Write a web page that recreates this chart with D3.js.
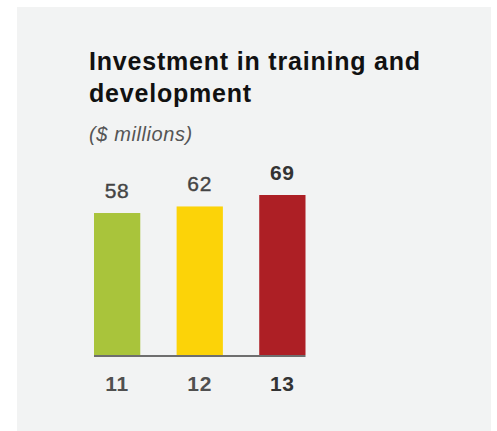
<!DOCTYPE html>
<html>
<head>
<meta charset="utf-8">
<script src="https://cdn.jsdelivr.net/npm/d3@7"></script>
<style>
  html, body { margin: 0; padding: 0; background: #ffffff; }
  svg { display: block; }
  text { font-family: "Liberation Sans", Arial, Helvetica, sans-serif; }
</style>
</head>
<body>
<div id="chart"></div>
<script>
// Fiscal years and spend on training and development ($ millions)
const years = ["11", "12", "13"];
const investment = [58, 62, 69];
const barColors = ["#a9c43b", "#fcd308", "#ad1f25"];
const titleLines = ["Investment in training and", "development"];
const subtitle = "($ millions)";
const valueFloor = -28.7; // value at which bars meet the baseline

const width = 497, height = 431;

const svg = d3.select("#chart").append("svg")
  .attr("width", width)
  .attr("height", height);

// card background
svg.append("rect")
  .attr("x", 17).attr("y", 7)
  .attr("width", 474).attr("height", height - 7)
  .attr("fill", "#f2f3f3");

// title
svg.append("g")
  .selectAll("text")
  .data(titleLines)
  .join("text")
  .attr("x", 89)
  .attr("y", (d, i) => 70 + i * 32)
  .attr("font-size", 25)
  .attr("font-weight", "bold")
  .attr("letter-spacing", 0.8)
  .attr("fill", "#111")
  .text(d => d);

svg.append("text")
  .attr("x", 89)
  .attr("y", 141)
  .attr("font-size", 20)
  .attr("font-style", "italic")
  .attr("letter-spacing", 0.6)
  .attr("fill", "#555")
  .text(subtitle);

// scales
const x = d3.scaleBand()
  .domain(years)
  .range([94, 305.5])
  .paddingInner(0.44)
  .paddingOuter(0);

const y = d3.scaleLinear()
  .domain([valueFloor, d3.max(investment)])
  .range([355, 195]);

const data = years.map((yr, i) => ({ year: yr, value: investment[i], color: barColors[i], latest: i === years.length - 1 }));

// bars
svg.append("g")
  .selectAll("rect")
  .data(data)
  .join("rect")
  .attr("x", d => x(d.year))
  .attr("y", d => y(d.value))
  .attr("width", x.bandwidth())
  .attr("height", d => y(valueFloor) - y(d.value))
  .attr("fill", d => d.color);

// value labels
svg.append("g")
  .selectAll("text")
  .data(data)
  .join("text")
  .attr("x", d => x(d.year) + x.bandwidth() / 2)
  .attr("y", d => y(d.value) - 15.5)
  .attr("text-anchor", "middle")
  .attr("font-size", 21)
  .attr("letter-spacing", 0.8)
  .attr("font-weight", d => d.latest ? "bold" : "normal")
  .attr("stroke", d => d.latest ? "none" : "#444")
  .attr("stroke-width", 0.4)
  .attr("fill", d => d.latest ? "#333" : "#444")
  .text(d => d.value);

// baseline axis with year labels
const axis = svg.append("g")
  .attr("transform", `translate(0,${y(valueFloor)})`)
  .call(d3.axisBottom(x).tickSize(0).tickPadding(0));

axis.select(".domain")
  .attr("stroke", "#6e6e6e")
  .attr("stroke-width", 2)
  .attr("d", `M${x.range()[0]},1H${x.range()[1]}`);

axis.selectAll(".tick text")
  .attr("y", 36)
  .attr("dy", null)
  .attr("font-family", null)
  .attr("font-size", 21)
  .attr("letter-spacing", 0.8)
  .attr("font-weight", "bold")
  .attr("fill", d => d === years[years.length - 1] ? "#333" : "#505050");
</script>
</body>
</html>
